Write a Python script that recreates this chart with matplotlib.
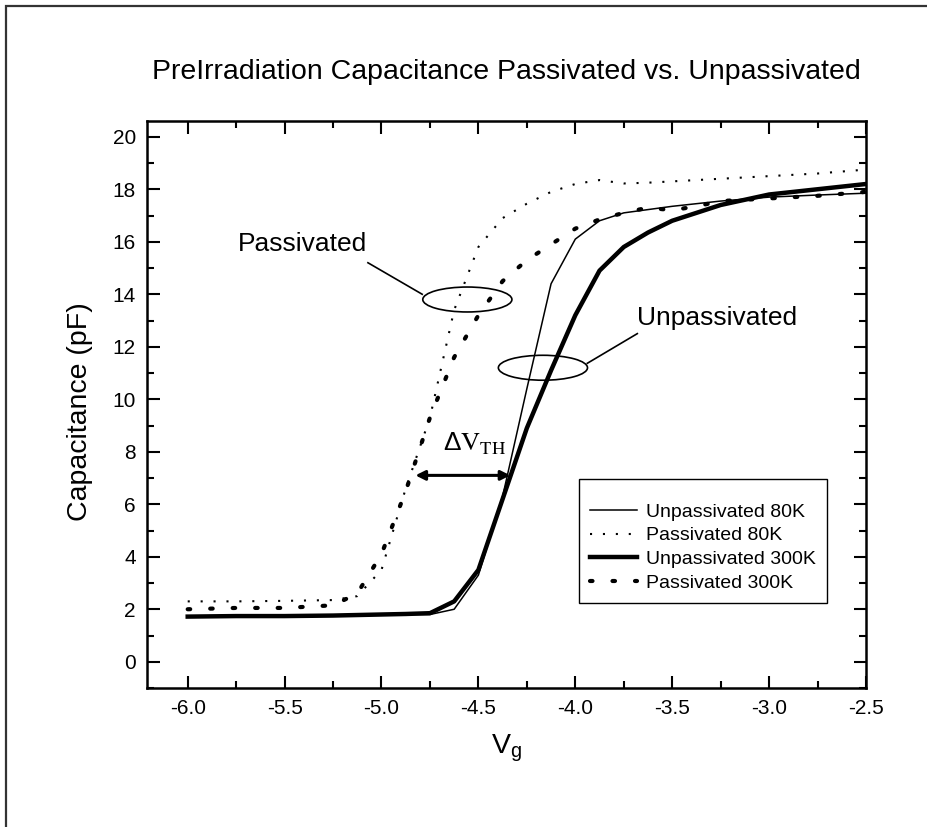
import matplotlib
matplotlib.use("Agg")
import matplotlib.pyplot as plt
from matplotlib.patches import Ellipse, Rectangle

plt.rcParams['font.family'] = ['Liberation Sans', 'DejaVu Sans']
plt.rcParams['mathtext.fontset'] = 'custom'
plt.rcParams['mathtext.rm'] = 'Liberation Sans'
plt.rcParams['mathtext.default'] = 'regular'

# ── C-V sweeps, gate voltage (V) vs capacitance (pF) ──────────────────────────
vg_unpass_80 = [-6.0, -5.75, -5.5, -5.25, -5.0, -4.875, -4.75, -4.625, -4.5,
                -4.375, -4.25, -4.125, -4.0, -3.875, -3.75, -3.5, -3.25,
                -3.0, -2.75, -2.5]
c_unpass_80 = [1.70, 1.72, 1.72, 1.76, 1.78, 1.80, 1.80, 2.00, 3.30,
               6.30, 10.40, 14.40, 16.10, 16.80, 17.10, 17.35, 17.55,
               17.70, 17.78, 17.85]

vg_pass_80 = [-6.0, -5.75, -5.5, -5.25, -5.125, -5.0, -4.875, -4.75, -4.625,
              -4.5, -4.375, -4.25, -4.125, -4.0, -3.875, -3.75, -3.625,
              -3.5, -3.25, -3.0, -2.75, -2.5]
c_pass_80 = [2.30, 2.30, 2.32, 2.35, 2.50, 3.50, 6.60, 9.30, 13.40,
             15.80, 16.90, 17.45, 17.90, 18.20, 18.35, 18.22, 18.25,
             18.30, 18.40, 18.50, 18.60, 18.75]

vg_unpass_300 = [-6.0, -5.75, -5.5, -5.25, -5.0, -4.875, -4.75, -4.625, -4.5,
                 -4.375, -4.25, -4.125, -4.0, -3.875, -3.75, -3.625, -3.5,
                 -3.375, -3.25, -3.0, -2.75, -2.5]
c_unpass_300 = [1.72, 1.74, 1.74, 1.76, 1.80, 1.82, 1.85, 2.30, 3.50,
                6.20, 8.90, 11.10, 13.20, 14.90, 15.80, 16.35, 16.80,
                17.10, 17.40, 17.80, 18.00, 18.20]

vg_pass_300 = [-6.0, -5.75, -5.5, -5.25, -5.125, -5.0, -4.875, -4.75, -4.625,
               -4.5, -4.375, -4.25, -4.125, -4.0, -3.875, -3.75, -3.625,
               -3.5, -3.375, -3.25, -3.0, -2.75, -2.5]
c_pass_300 = [2.00, 2.05, 2.05, 2.15, 2.60, 4.10, 6.50, 9.30, 11.60,
              13.20, 14.50, 15.30, 15.90, 16.50, 16.85, 17.10, 17.30,
              17.20, 17.35, 17.55, 17.65, 17.75, 17.90]

series_labels = ["Unpassivated 80K", "Passivated 80K",
                 "Unpassivated 300K", "Passivated 300K"]
x_ticks = [-6.0, -5.5, -5.0, -4.5, -4.0, -3.5, -3.0, -2.5]
y_ticks = [0, 2, 4, 6, 8, 10, 12, 14, 16, 18, 20]

W, H = 928, 827
fig = plt.figure(figsize=(W / 100, H / 100), dpi=100)

# outer frame, open at the right and bottom edges of the page
fig.patches.append(Rectangle((6 / W, -0.05), 1.0, 1 - 6 / H + 0.05,
                             transform=fig.transFigure, fill=False,
                             lw=1.6, ec="#333333", clip_on=False))

ax = fig.add_axes([147 / W, 1 - 688 / H, (866 - 147) / W, (688 - 121) / H])

ax.plot(vg_unpass_80, c_unpass_80, color="black", lw=1.1,
        label=series_labels[0])
ax.plot(vg_pass_80, c_pass_80, color="black", lw=1.5,
        linestyle=(0, (1, 5.2)), label=series_labels[1])
ax.plot(vg_unpass_300, c_unpass_300, color="black", lw=3.2,
        label=series_labels[2])
ax.plot(vg_pass_300, c_pass_300, color="black", lw=3.0,
        linestyle=(0, (0.6, 4.8)), dash_capstyle="round",
        label=series_labels[3])

ax.set_xlim(-6.21, -2.5)
ax.set_ylim(-1, 20.6)
ax.set_xticks(x_ticks)
ax.set_xticklabels([f"{v:.1f}" for v in x_ticks])
ax.set_xticks([v + 0.25 for v in x_ticks[:-1]], minor=True)
ax.set_yticks(y_ticks)
ax.set_yticks(range(-1, 21), minor=True)
ax.tick_params(which="both", direction="in", top=True, right=True,
               width=1.5, labelsize=15)
ax.tick_params(which="major", length=9, pad=8)
ax.tick_params(which="minor", length=5)
for sp in ax.spines.values():
    sp.set_linewidth(1.8)

fig.text((147 + 866) / 2 / W, 1 - 72 / H,
         "PreIrradiation Capacitance Passivated vs. Unpassivated",
         ha="center", va="center", fontsize=20.5)
fig.text(80 / W, 1 - 412 / H, "Capacitance (pF)", rotation=90,
         ha="center", va="center", fontsize=20.5)
fig.text((147 + 866) / 2 / W, 1 - 748 / H, "V$_g$",
         ha="center", va="center", fontsize=20.5)

# call-outs for the two device groups
ax.add_patch(Ellipse((-4.557, 13.8), 0.46, 0.95, fill=False, lw=1.2))
ax.plot([-5.07, -4.79], [15.2, 14.0], color="black", lw=1.2)
ax.text(-5.41, 15.9, "Passivated", ha="center", va="center", fontsize=19)

ax.add_patch(Ellipse((-4.167, 11.2), 0.46, 0.95, fill=False, lw=1.2))
ax.plot([-3.938, -3.68], [11.37, 12.5], color="black", lw=1.2)
ax.text(-3.268, 13.1, "Unpassivated", ha="center", va="center", fontsize=19)

# threshold shift between the passivated and unpassivated curves
ax.annotate("", xy=(-4.825, 7.1), xytext=(-4.335, 7.1),
            arrowprops=dict(arrowstyle="<|-|>", lw=2.2, color="black",
                            mutation_scale=14, shrinkA=0, shrinkB=0))
ax.text(-4.52, 8.3, r"$\Delta\mathrm{V}_{\mathrm{TH}}$",
        math_fontfamily="stix", ha="center", va="center", fontsize=19)

# blank legend title leaves the extra headroom above the first entry
leg = ax.legend(loc="upper right", bbox_to_anchor=(827 / W, 1 - 479 / H),
                bbox_transform=fig.transFigure, fontsize=14, frameon=True,
                fancybox=False, edgecolor="black", framealpha=1,
                handlelength=2.4, labelspacing=0.32, borderpad=0.55,
                handletextpad=0.5, borderaxespad=0,
                title=" ", title_fontsize=5)
leg.get_frame().set_linewidth(1.0)

fig.savefig("out.png", dpi=100)
